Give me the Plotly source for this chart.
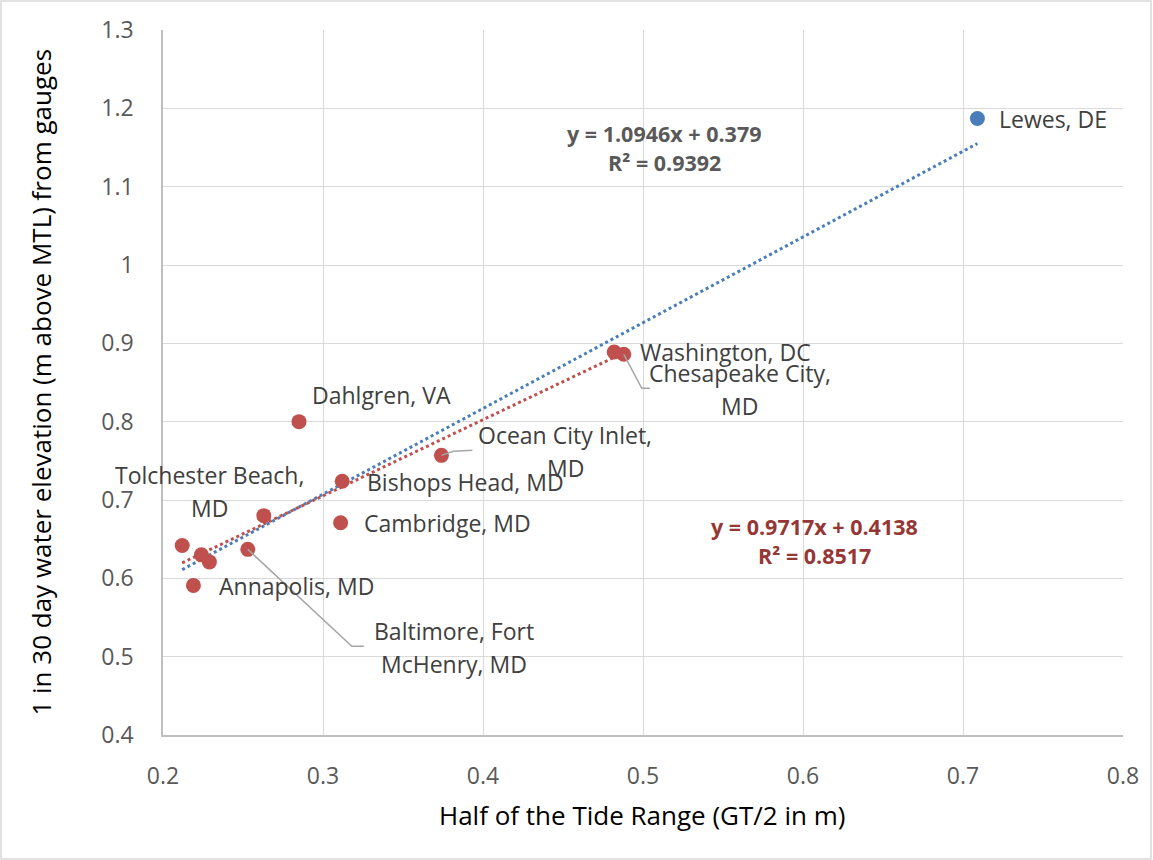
import textwrap
import plotly.graph_objects as go

# Half tide range (GT/2, m) vs 1-in-30-day water elevation (m above MTL)
ocean_names = ["Lewes, DE"]
ocean_x = [0.709]
ocean_y = [1.187]

bay_names = [
    "Dahlgren, VA",
    "Ocean City Inlet, MD",
    "Bishops Head, MD",
    "Cambridge, MD",
    "Tolchester Beach, MD",
    "Annapolis, MD",
    "Baltimore, Fort McHenry, MD",
    "Washington, DC",
    "Chesapeake City, MD",
    "",
    "",
    "",
]
bay_x = [0.285, 0.374, 0.312, 0.311, 0.263, 0.219, 0.253, 0.482, 0.488, 0.212, 0.224, 0.229]
bay_y = [0.800, 0.757, 0.724, 0.671, 0.680, 0.591, 0.637, 0.889, 0.886, 0.642, 0.630, 0.621]

# Linear trend coefficients (slope, intercept, R^2)
all_fit = [1.0946, 0.379, 0.9392]
bay_fit = [0.9717, 0.4138, 0.8517]

x_ticks = [0.2, 0.3, 0.4, 0.5, 0.6, 0.7, 0.8]
y_ticks = [0.4, 0.5, 0.6, 0.7, 0.8, 0.9, 1.0, 1.1, 1.2, 1.3]

BLUE = "#4a7ebb"
RED = "#c0504d"
TEXT = "#404040"
TICK = "#595959"
GRID = "#d9d9d9"
FONT = "'Open Sans', Lato, sans-serif"

fig = go.Figure()

# trend lines, spanning the data each one is fitted to
all_x = ocean_x + bay_x
for fit, xs, color in [(all_fit, all_x, BLUE), (bay_fit, bay_x, RED)]:
    x0, x1 = min(xs), max(xs)
    fig.add_trace(go.Scatter(
        x=[x0, x1], y=[fit[0] * x0 + fit[1], fit[0] * x1 + fit[1]],
        mode="lines", line=dict(color=color, width=3, dash="dot"),
        hoverinfo="skip", showlegend=False))

fig.add_trace(go.Scatter(x=bay_x, y=bay_y, mode="markers", text=bay_names,
                         marker=dict(color=RED, size=15), showlegend=False))
fig.add_trace(go.Scatter(x=ocean_x, y=ocean_y, mode="markers", text=ocean_names,
                         marker=dict(color=BLUE, size=15), showlegend=False))

# label placement: (dx, dy) pixel offset, anchor, wrap width, leader path
label_layout = {
    "Lewes, DE": (20, 0, "left", None, None),
    "Dahlgren, VA": (82, 27, "center", None, None),
    "Ocean City Inlet, MD": (124, 4, "center", 17, [(0, 0), (12, 4), (31, 5)]),
    "Bishops Head, MD": (23, -1, "left", None, None),
    "Cambridge, MD": (21, 0, "left", None, None),
    "Tolchester Beach, MD": (-54, 24, "center", 17, None),
    "Annapolis, MD": (24, -1, "left", None, None),
    "Baltimore, Fort McHenry, MD": (206, -98, "center", 17, [(0, 0), (104, -97), (116, -97)]),
    "Washington, DC": (24, 0, "left", None, None),
    "Chesapeake City, MD": (116, -35, "center", 17, [(0, 0), (18, -34), (26, -34)]),
}
LINE_GAP = 33

points = list(zip(ocean_names, ocean_x, ocean_y)) + list(zip(bay_names, bay_x, bay_y))
for name, px, py in points:
    if name not in label_layout:
        continue
    dx, dy, anchor, wrap, leader = label_layout[name]
    lines = textwrap.wrap(name, wrap) if wrap else [name]
    n = len(lines)
    for i, line in enumerate(lines):
        fig.add_annotation(
            x=px, y=py, xref="x", yref="y", text=line, showarrow=False,
            xanchor=anchor, yanchor="middle",
            xshift=dx, yshift=dy + (n - 1) * LINE_GAP / 2 - i * LINE_GAP,
            font=dict(family=FONT, size=23, color=TEXT))
    if leader:
        path = "M " + " L ".join(f"{a},{b}" for a, b in leader)
        fig.add_shape(type="path", path=path, xref="x", yref="y",
                      xsizemode="pixel", ysizemode="pixel", xanchor=px, yanchor=py,
                      line=dict(color="#a6a6a6", width=1.5))

# regression equations
for fit, ax, ay, color in [(all_fit, 0.522, 0.853, TICK), (bay_fit, 0.679, 0.296, "#953735")]:
    eq = f"y = {fit[0]:.4f}x + {fit[1]:g}"
    r2 = f"R² = {fit[2]:.4f}"
    for i, line in enumerate([eq, r2]):
        fig.add_annotation(
            x=ax, y=ay, xref="paper", yref="paper", text=f"<b>{line}</b>",
            showarrow=False, xanchor="center", yanchor="middle", yshift=-i * 29,
            font=dict(family=FONT, size=21.5, color=color))

# axis titles
fig.add_annotation(x=0.4995, y=-0.1135, xref="paper", yref="paper",
                   xanchor="center", yanchor="middle",
                   text="Half of the Tide Range (GT/2 in m)", showarrow=False,
                   font=dict(family=FONT, size=26, color="#000000"))
fig.add_annotation(x=-0.128, y=0.5, xref="paper", yref="paper", textangle=-90,
                   xanchor="center", yanchor="middle",
                   text="1 in 30 day water elevation (m above MTL) from gauges",
                   showarrow=False,
                   font=dict(family=FONT, size=26, color="#000000"))

# outer chart frame
fig.add_shape(type="rect", xref="paper", yref="paper",
              x0=-162 / 960, x1=(1151 - 163) / 960, y0=-124 / 705, y1=1 + 29 / 705,
              line=dict(color=GRID, width=1.5), fillcolor="rgba(0,0,0,0)", layer="below")

fig.update_xaxes(range=[0.2, 0.8], tickvals=x_ticks, ticktext=[f"{v:g}" for v in x_ticks],
                 showgrid=True, gridcolor=GRID, gridwidth=1.3, zeroline=False,
                 showline=True, linecolor="#bfbfbf", linewidth=1.5, ticks="",
                 ticklabelstandoff=20,
                 tickfont=dict(family=FONT, size=23, color=TICK))
fig.update_yaxes(range=[0.4, 1.3], tickvals=y_ticks, ticktext=[f"{v:g}" for v in y_ticks],
                 showgrid=True, gridcolor=GRID, gridwidth=1.3, zeroline=False,
                 showline=True, linecolor="#bfbfbf", linewidth=1.5, ticks="",
                 ticklabelstandoff=23,
                 tickfont=dict(family=FONT, size=23, color=TICK))

fig.update_layout(
    width=1153, height=860, autosize=False,
    margin=dict(l=163, r=30, t=30, b=125),
    plot_bgcolor="white", paper_bgcolor="white",
    showlegend=False, hovermode="closest",
)

fig.write_html("out.html")
